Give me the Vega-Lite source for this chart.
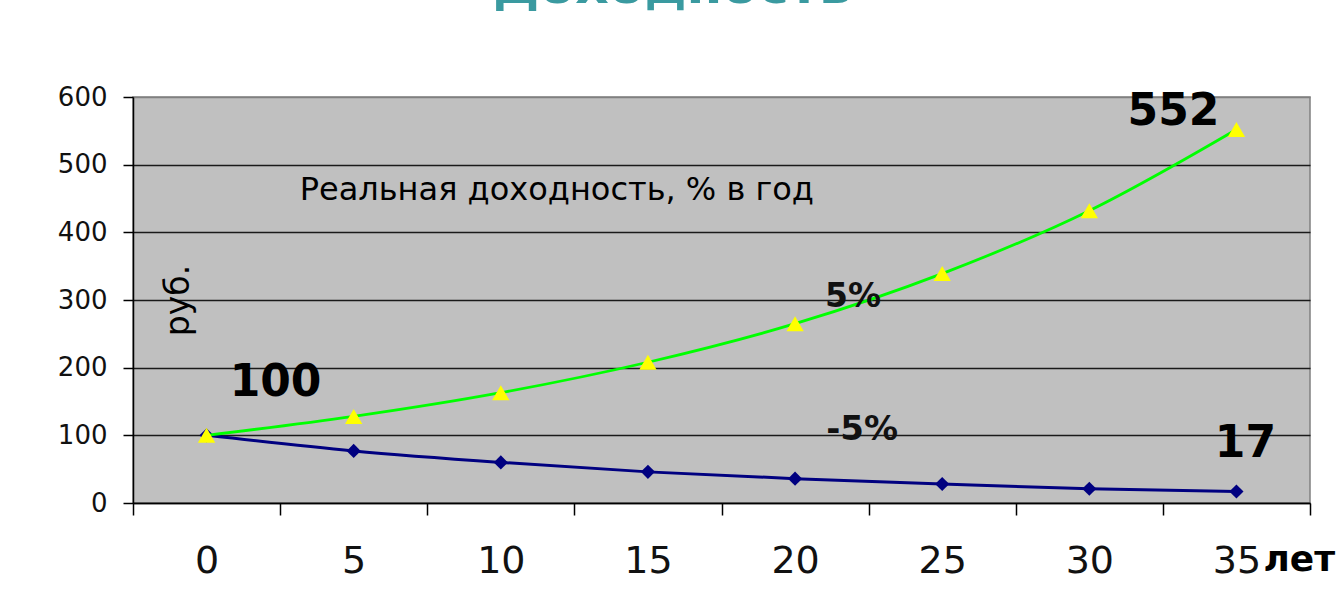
{
  "$schema": "https://vega.github.io/schema/vega-lite/v6.json",
  "width": 1177,
  "height": 406,
  "autosize": {"type": "none"},
  "padding": {"left": 133, "top": 97, "right": 28, "bottom": 90},
  "background": "white",
  "title": {
    "text": "Доходность",
    "font": "DejaVu Sans",
    "fontSize": 52,
    "fontWeight": "bold",
    "color": "#3A9AA0",
    "anchor": "middle",
    "baseline": "alphabetic",
    "offset": 29,
    "dx": -49
  },
  "config": {
    "view": {"fill": "#C0C0C0", "stroke": "#808080", "strokeWidth": 1.5},
    "font": "DejaVu Sans"
  },
  "datasets": {
    "series": [
      {"year": 0, "value": 100, "series": "5%"},
      {"year": 5, "value": 128, "series": "5%"},
      {"year": 10, "value": 163, "series": "5%"},
      {"year": 15, "value": 208, "series": "5%"},
      {"year": 20, "value": 265, "series": "5%"},
      {"year": 25, "value": 339, "series": "5%"},
      {"year": 30, "value": 432, "series": "5%"},
      {"year": 35, "value": 552, "series": "5%"},
      {"year": 0, "value": 100, "series": "-5%"},
      {"year": 5, "value": 77, "series": "-5%"},
      {"year": 10, "value": 60, "series": "-5%"},
      {"year": 15, "value": 46, "series": "-5%"},
      {"year": 20, "value": 36, "series": "-5%"},
      {"year": 25, "value": 28, "series": "-5%"},
      {"year": 30, "value": 21, "series": "-5%"},
      {"year": 35, "value": 17, "series": "-5%"}
    ]
  },
  "data": {"name": "series"},
  "encoding": {
    "x": {
      "field": "year",
      "type": "ordinal",
      "scale": {"type": "band", "paddingInner": 0, "paddingOuter": 0},
      "axis": {
        "title": "лет",
        "titleFont": "DejaVu Sans",
        "titleFontWeight": "bold",
        "titleFontSize": 36,
        "titleColor": "#000",
        "titleX": 1130,
        "titleY": 67,
        "titleAlign": "left",
        "titleBaseline": "alphabetic",
        "labelAngle": 0,
        "labelFont": "DejaVu Sans",
        "labelFontSize": 38,
        "labelColor": "#111",
        "labelBaseline": "alphabetic",
        "labelPadding": 57,
        "tickBand": "extent",
        "tickSize": 12,
        "tickColor": "#000",
        "tickWidth": 1.5,
        "domainColor": "#000",
        "domainWidth": 1.5,
        "grid": false
      }
    },
    "y": {
      "field": "value",
      "type": "quantitative",
      "scale": {"domain": [0, 600], "nice": false},
      "axis": {
        "values": [0, 100, 200, 300, 400, 500, 600],
        "title": "руб.",
        "titleFont": "DejaVu Sans",
        "titleFontWeight": "normal",
        "titleFontSize": 33,
        "titleColor": "#000",
        "titleAngle": -90,
        "titleX": 45,
        "titleY": 203,
        "titleAlign": "center",
        "titleBaseline": "middle",
        "labelFont": "DejaVu Sans",
        "labelFontSize": 26,
        "labelColor": "#111",
        "labelPadding": 16,
        "tickSize": 10,
        "tickColor": "#000",
        "tickWidth": 1.5,
        "domainColor": "#000",
        "domainWidth": 1.5,
        "grid": true,
        "gridColor": {"condition": {"test": "datum.value === 600", "value": "#808080"}, "value": "#1a1a1a"},
        "gridWidth": 1.4,
        "gridOpacity": 1
      }
    }
  },
  "layer": [
    {
      "transform": [{"filter": "datum.series === '-5%'"}],
      "mark": {"type": "line", "color": "#000080", "strokeWidth": 3, "interpolate": "monotone"}
    },
    {
      "transform": [{"filter": "datum.series === '-5%'"}],
      "mark": {"type": "point", "shape": "diamond", "filled": true, "color": "#000080", "size": 200, "opacity": 1}
    },
    {
      "transform": [{"filter": "datum.series === '5%'"}],
      "mark": {"type": "line", "color": "#00FF00", "strokeWidth": 2.8, "interpolate": "monotone"}
    },
    {
      "transform": [{"filter": "datum.series === '5%'"}],
      "mark": {"type": "point", "shape": "triangle-up", "filled": true, "color": "#FFFF00", "size": 300, "opacity": 1}
    },
    {
      "data": {"values": [{"year": 5, "value": 462, "label": "Реальная доходность, % в год"}]},
      "mark": {"type": "text", "align": "left", "baseline": "middle", "dx": -54, "font": "DejaVu Sans", "fontSize": 32, "color": "#000"},
      "encoding": {"text": {"field": "label"}}
    },
    {
      "data": {"values": [{"year": 0, "value": 177, "label": "100"}]},
      "mark": {"type": "text", "align": "center", "baseline": "middle", "dx": 69, "font": "DejaVu Sans", "fontSize": 44, "fontWeight": "bold", "color": "#000"},
      "encoding": {"text": {"field": "label"}}
    },
    {
      "data": {"values": [{"year": 35, "value": 578, "label": "552"}]},
      "mark": {"type": "text", "align": "center", "baseline": "middle", "dx": -63, "font": "DejaVu Sans", "fontSize": 44, "fontWeight": "bold", "color": "#000"},
      "encoding": {"text": {"field": "label"}}
    },
    {
      "data": {"values": [{"year": 35, "value": 87, "label": "17"}]},
      "mark": {"type": "text", "align": "center", "baseline": "middle", "dx": 9, "font": "DejaVu Sans", "fontSize": 44, "fontWeight": "bold", "color": "#000"},
      "encoding": {"text": {"field": "label"}}
    },
    {
      "data": {"values": [{"year": 20, "value": 304, "label": "5%"}]},
      "mark": {"type": "text", "align": "center", "baseline": "middle", "dx": 58, "font": "DejaVu Sans", "fontSize": 33, "fontWeight": "bold", "color": "#111"},
      "encoding": {"text": {"field": "label"}}
    },
    {
      "data": {"values": [{"year": 20, "value": 108, "label": "-5%"}]},
      "mark": {"type": "text", "align": "center", "baseline": "middle", "dx": 67, "font": "DejaVu Sans", "fontSize": 34, "fontWeight": "bold", "color": "#111"},
      "encoding": {"text": {"field": "label"}}
    }
  ]
}
